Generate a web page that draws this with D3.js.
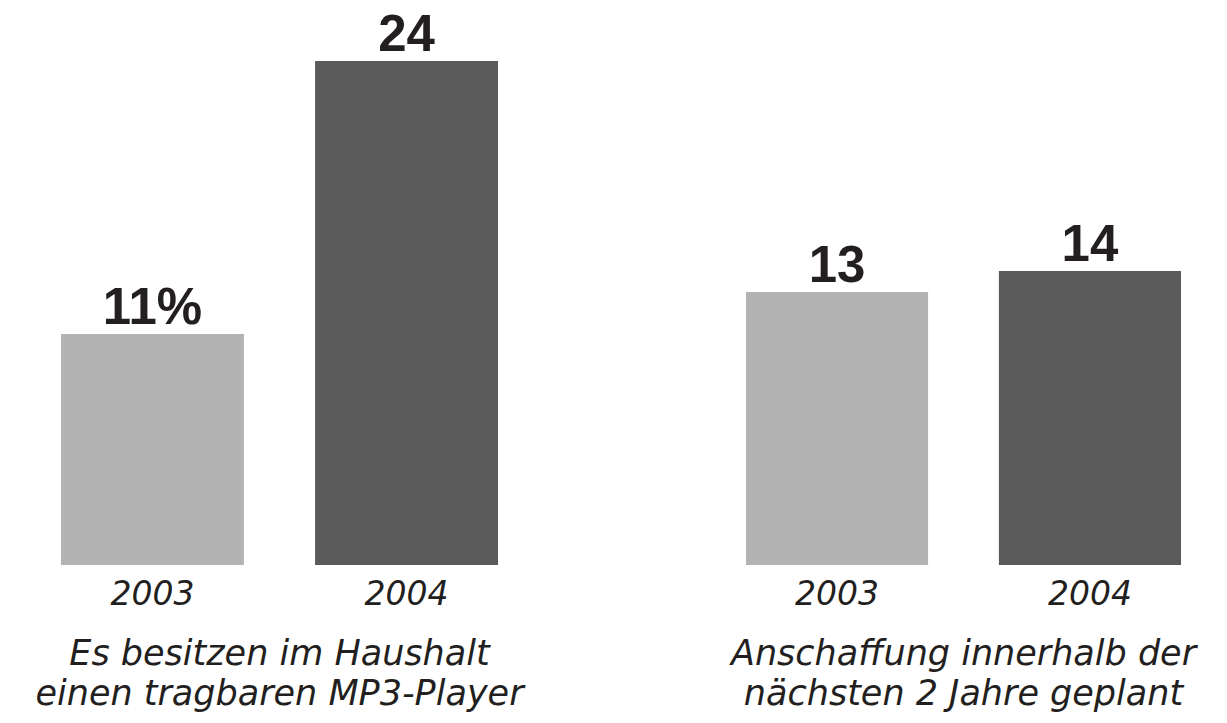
<!DOCTYPE html>
<html>
<head>
<meta charset="utf-8">
<script src="https://cdn.jsdelivr.net/npm/d3@7"></script>
<style>
  body { margin: 0; background: #fff; }
</style>
</head>
<body>
<div id="chart"></div>
<script>
var years = ["2003", "2004"];
var besitz = [11, 24];
var anschaffung = [13, 14];
var besitzLabels = ["11%", "24"];
var anschaffungLabels = ["13", "14"];
var captionBesitz = ["Es besitzen im Haushalt", "einen tragbaren MP3-Player"];
var captionAnschaffung = ["Anschaffung innerhalb der", "nächsten 2 Jahre geplant"];

var width = 1227,
    height = 723,
    _light = "#b3b3b3",
    _dark = "#5a5a5a",
    _text = "#231f20";

var svg = d3.select("#chart")
    .append("svg")
    .attr("width", width)
    .attr("height", height);

var y = d3.scaleLinear()
    .domain([0, 24])
    .range([565, 61]);

var color = d3.scaleOrdinal()
    .domain(years)
    .range([_light, _dark]);

function drawPanel(x0, x1, values, labels, caption) {
    var x = d3.scaleBand()
        .domain(years)
        .range([x0, x1])
        .paddingInner(0.28)
        .paddingOuter(0);

    var rows = years.map(function(d, i) { return { year: d, value: values[i], label: labels[i] }; });

    var g = svg.append("g");

    g.selectAll("rect")
        .data(rows)
        .enter()
        .append("rect")
        .attr("x", function(d) { return x(d.year); })
        .attr("y", function(d) { return y(d.value); })
        .attr("width", x.bandwidth())
        .attr("height", function(d) { return y(0) - y(d.value); })
        .style("fill", function(d) { return color(d.year); });

    g.selectAll(".value")
        .data(rows)
        .enter()
        .append("text")
        .attr("class", "value")
        .attr("x", function(d) { return x(d.year) + x.bandwidth() / 2; })
        .attr("y", function(d) { return y(d.value) - 10; })
        .style("text-anchor", "middle")
        .style("font-family", "Liberation Sans")
        .style("font-weight", "bold")
        .style("font-size", "51px")
        .style("fill", _text)
        .text(function(d) { return d.label; });

    g.selectAll(".year")
        .data(rows)
        .enter()
        .append("text")
        .attr("class", "year")
        .attr("x", function(d) { return x(d.year) + x.bandwidth() / 2; })
        .attr("y", 605)
        .style("text-anchor", "middle")
        .style("font-family", "DejaVu Sans")
        .style("font-style", "italic")
        .style("font-size", "33px")
        .style("fill", _text)
        .text(function(d) { return d.year; });

    g.selectAll(".caption")
        .data(caption)
        .enter()
        .append("text")
        .attr("class", "caption")
        .attr("x", (x0 + x1) / 2)
        .attr("y", function(d, i) { return 665 + i * 40; })
        .style("text-anchor", "middle")
        .style("font-family", "DejaVu Sans")
        .style("font-style", "italic")
        .style("font-size", "35px")
        .style("fill", _text)
        .text(function(d) { return d; });
}

drawPanel(61, 498, besitz, besitzLabels, captionBesitz);
drawPanel(746, 1181, anschaffung, anschaffungLabels, captionAnschaffung);
</script>
</body>
</html>
